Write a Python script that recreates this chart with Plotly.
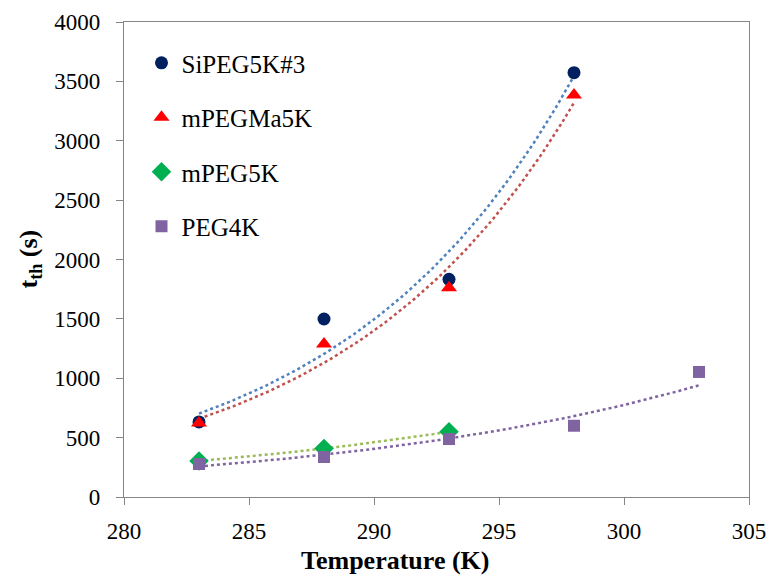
import numpy as np
import plotly.graph_objects as go

# Data
temp_a = [283, 288, 293, 298]
sipeg5k3 = [632, 1499, 1833, 3573]
mpegma5k = [623, 1288, 1762, 3385]
temp_b = [283, 288, 293]
mpeg5k = [303, 408, 550]
temp_c = [283, 288, 293, 298, 303]
peg4k = [278, 337, 488, 600, 1053]

x_ticks = [280, 285, 290, 295, 300, 305]
y_ticks = [0, 500, 1000, 1500, 2000, 2500, 3000, 3500, 4000]

series = [
    ("SiPEG5K#3", temp_a, sipeg5k3, "circle", "#002060", 13, "#4F81BD"),
    ("mPEGMa5K", temp_a, mpegma5k, "triangle-up", "#FF0000", 14, "#C0504D"),
    ("mPEG5K", temp_b, mpeg5k, "diamond", "#00B050", 15, "#9BBB59"),
    ("PEG4K", temp_c, peg4k, "square", "#8064A2", 12, "#8064A2"),
]

SERIF = "Times New Roman, Liberation Serif, serif"

fig = go.Figure()

# exponential trendlines (least squares on log values, like Excel)
for name, xs, ys, sym, mc, ms, lc in series:
    xa = np.array(xs, dtype=float)
    la = np.log(np.array(ys, dtype=float))
    b, a = np.polyfit(xa, la, 1)
    xf = np.linspace(xa.min(), xa.max(), 100)
    fig.add_trace(go.Scatter(
        x=xf, y=np.exp(a + b * xf), mode="lines",
        line=dict(color=lc, width=2.5, dash="dot"),
        showlegend=False, hoverinfo="skip"))

for i, (name, xs, ys, sym, mc, ms, lc) in enumerate(series):
    fig.add_trace(go.Scatter(
        x=xs, y=ys, mode="markers", name=name, legendgroup="g%d" % i,
        marker=dict(symbol=sym, color=mc, size=ms, line=dict(width=0))))

axis_common = dict(
    showline=True, linecolor="#868686", linewidth=1.3, mirror=True,
    ticks="outside", ticklen=7, tickcolor="#868686", tickwidth=1.3,
    showgrid=False, zeroline=False, automargin=False,
    tickfont=dict(family=SERIF, size=23, color="black"),
)

fig.update_layout(
    width=769, height=578,
    margin=dict(l=124, r=20, t=22, b=81),
    font=dict(family=SERIF, color="black"),
    plot_bgcolor="white", paper_bgcolor="white",
    xaxis=dict(range=[280, 305], tickvals=x_ticks, ticklabelstandoff=6,
               **axis_common),
    yaxis=dict(range=[0, 4000], tickvals=y_ticks, ticklabelstandoff=11,
               **axis_common),
    legend=dict(
        x=0.028, y=0.962, xanchor="left", yanchor="top",
        traceorder="grouped", tracegroupgap=19,
        font=dict(family=SERIF, size=25, color="black"),
        bgcolor="rgba(0,0,0,0)",
    ),
    annotations=[
        dict(text="<b>Temperature (K)</b>", xref="paper", yref="paper",
             x=0.434, y=-0.133, xanchor="center", yanchor="middle",
             showarrow=False,
             font=dict(family=SERIF, size=26, color="black")),
        dict(text="<b>t<sub>th</sub> (s)</b>", xref="paper", yref="paper",
             x=-0.152, y=0.5, xanchor="center", yanchor="middle",
             textangle=-90, showarrow=False,
             font=dict(family=SERIF, size=26, color="black")),
    ],
)

fig.write_html("out.html",
               config={"displayModeBar": False},
               post_script="document.body.style.margin='0';"
                           "document.body.style.overflow='hidden';")
